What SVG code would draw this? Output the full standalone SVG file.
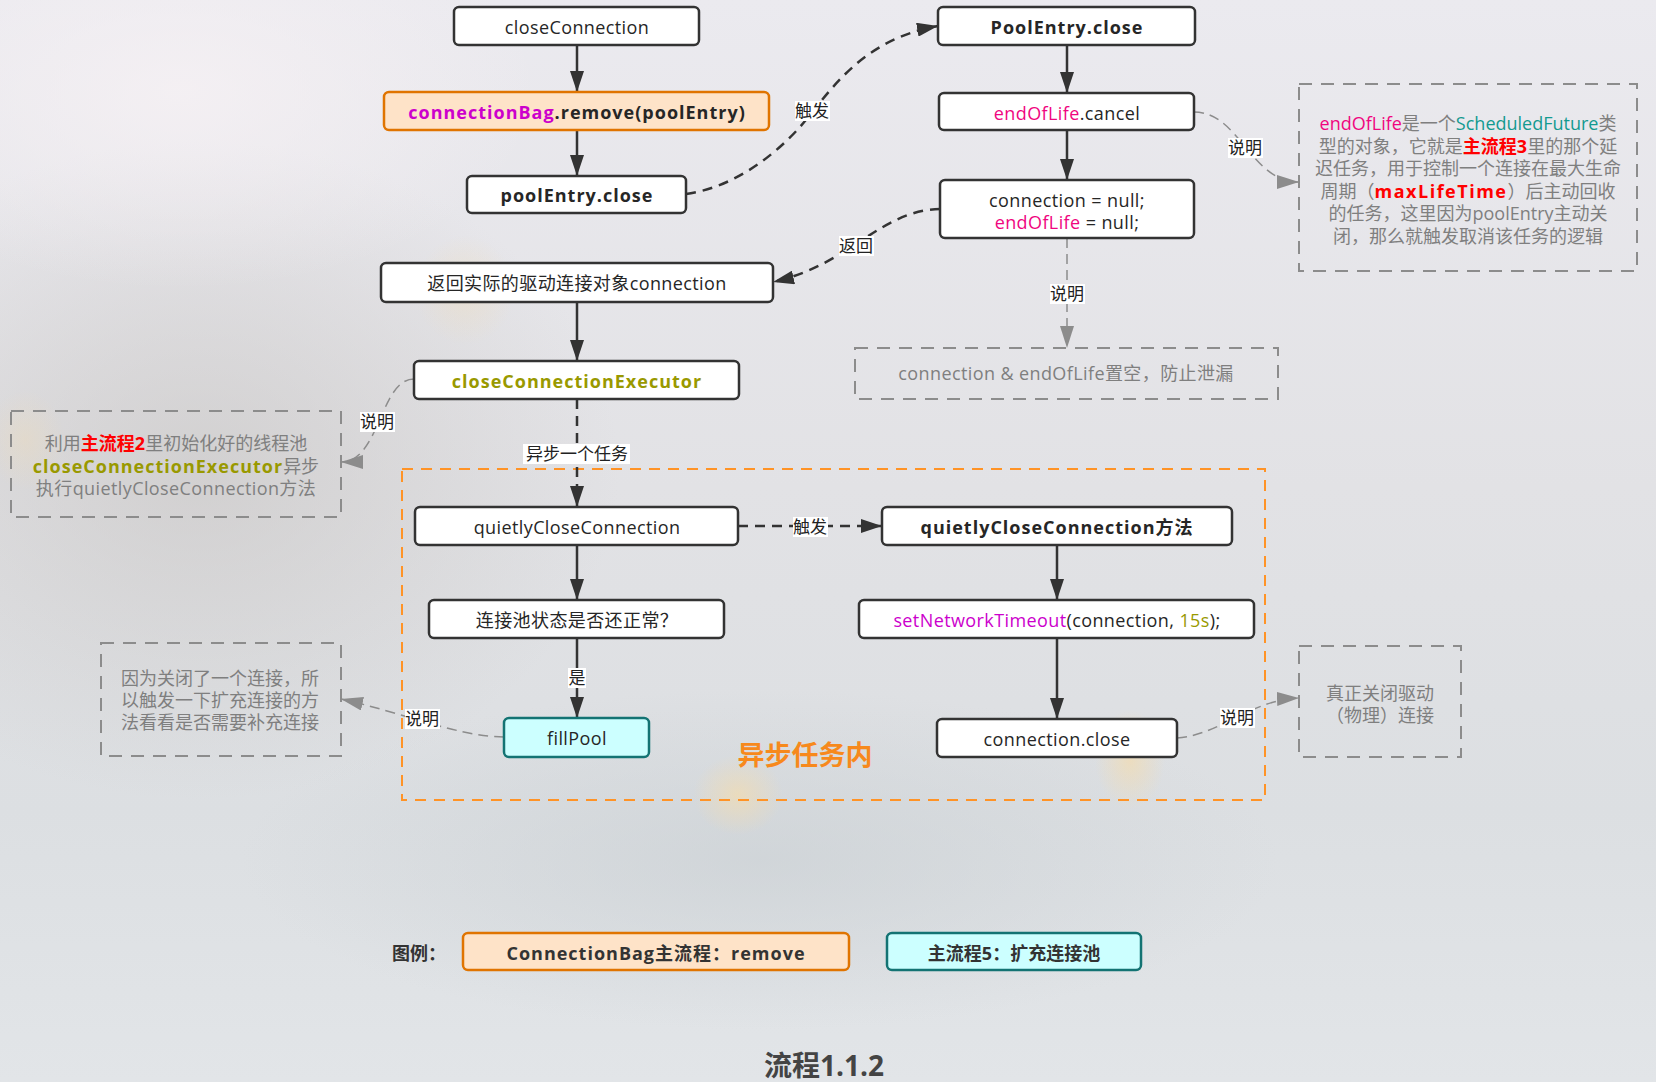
<svg xmlns="http://www.w3.org/2000/svg" width="1656" height="1082" viewBox="0 0 1656 1082">
  <defs>
    <linearGradient id="bgv" x1="0" y1="0" x2="0" y2="1">
      <stop offset="0" stop-color="#ebeaef"/>
      <stop offset="0.45" stop-color="#e2e2e5"/>
      <stop offset="0.75" stop-color="#dcdfe2"/>
      <stop offset="1" stop-color="#e2e5e8"/>
    </linearGradient>
    <radialGradient id="shadeL" cx="0.5" cy="0.5" r="0.5">
      <stop offset="0" stop-color="#c4c1bf" stop-opacity="0.55"/>
      <stop offset="1" stop-color="#c4c1bf" stop-opacity="0"/>
    </radialGradient>
    <radialGradient id="lightTL" cx="0.5" cy="0.5" r="0.5">
      <stop offset="0" stop-color="#f6f1f4" stop-opacity="0.8"/>
      <stop offset="1" stop-color="#f6f1f4" stop-opacity="0"/>
    </radialGradient>
    <radialGradient id="shadeB" cx="0.5" cy="0.5" r="0.5">
      <stop offset="0" stop-color="#c8ced2" stop-opacity="0.6"/>
      <stop offset="1" stop-color="#c8ced2" stop-opacity="0"/>
    </radialGradient>
    <radialGradient id="glow" cx="0.5" cy="0.5" r="0.5">
      <stop offset="0" stop-color="#f3dcb0" stop-opacity="0.7"/>
      <stop offset="1" stop-color="#f3dcb0" stop-opacity="0"/>
    </radialGradient>
    <marker id="arr" markerUnits="userSpaceOnUse" markerWidth="21" markerHeight="14" refX="21" refY="7" orient="auto">
      <path d="M0,0 L21,7 L0,14 z" fill="#333"/>
    </marker>
    <marker id="arrg" markerUnits="userSpaceOnUse" markerWidth="22" markerHeight="14" refX="22" refY="7" orient="auto">
      <path d="M0,0 L22,7 L0,14 z" fill="#8c8c8c"/>
    </marker>
    <style>
      .t { font-family: "Open Sans", "Noto Sans CJK SC", sans-serif; font-size: 18px; fill: #262626; text-anchor: middle; }
      .n { letter-spacing: 0.4px; }
      .b { font-weight: bold; }
      .bs { font-weight: bold; letter-spacing: 1px; }
      .node rect { fill: #ffffff; stroke: #333333; stroke-width: 2.5; }
      .orange rect { fill: #fee3c8; stroke: #e07400; }
      .cyan rect { fill: #ccffff; stroke: #137373; }
      .edge { fill: none; stroke: #333333; stroke-width: 2.5; }
      .dash { stroke-dasharray: 10 7; }
      .nedge { fill: none; stroke: #8c8c8c; stroke-width: 1.5; stroke-dasharray: 10 6; }
      .note rect { fill: none; stroke: #8c8c8c; stroke-width: 2; stroke-dasharray: 13 9; }
      .note text { fill: #7f7f7f; }
      .lbg { fill: #ffffff; }
      .lbl { font-family: "Open Sans", "Noto Sans CJK SC", sans-serif; font-size: 17px; fill: #222; text-anchor: middle; }
      .pink { fill: #f0067f; }
      .mag { fill: #cc00cc; }
      .olive { fill: #999900; }
      .teal { fill: #139a90; }
      .red { fill: #ff0000; font-weight: bold; }
    </style>
  </defs>

  <!-- soft backdrop -->
  <rect width="1656" height="1082" fill="url(#bgv)"/>
  <ellipse cx="200" cy="470" rx="420" ry="330" fill="url(#shadeL)"/>
  <ellipse cx="180" cy="90" rx="360" ry="200" fill="url(#lightTL)"/>
  <ellipse cx="760" cy="860" rx="520" ry="170" fill="url(#shadeB)"/>
  <ellipse cx="738" cy="795" rx="45" ry="40" fill="url(#glow)"/>
  <ellipse cx="1130" cy="760" rx="35" ry="50" fill="url(#glow)"/>
  <ellipse cx="465" cy="290" rx="50" ry="55" fill="url(#glow)" opacity="0.5"/>
  <ellipse cx="25" cy="440" rx="40" ry="50" fill="url(#glow)" opacity="0.45"/>

  <!-- async task container -->
  <g id="async-group">
    <rect x="402" y="469" width="863" height="331" fill="none" stroke="#ff9326" stroke-width="2" stroke-dasharray="11 8"/>
    <text class="t b" x="805" y="765" style="font-size:27px;fill:#f7891c">异步任务内</text>
  </g>

  <!-- notes -->
  <g id="note-endoflife" class="note">
    <rect x="1299" y="84" width="338" height="187"/>
    <text class="t" x="1468" y="130"><tspan class="pink">endOfLife</tspan>是一个<tspan class="teal">ScheduledFuture</tspan>类</text>
    <text class="t" x="1468" y="152.5">型的对象，它就是<tspan class="red">主流程3</tspan>里的那个延</text>
    <text class="t" x="1468" y="175">迟任务，用于控制一个连接在最大生命</text>
    <text class="t" x="1468" y="197.5">周期（<tspan class="red" letter-spacing="1.5">maxLifeTime</tspan>）后主动回收</text>
    <text class="t" x="1468" y="220">的任务，这里因为poolEntry主动关</text>
    <text class="t" x="1468" y="242.5">闭，那么就触发取消该任务的逻辑</text>
  </g>
  <g id="note-null" class="note">
    <rect x="855" y="348" width="423" height="51"/>
    <text class="t n" x="1066" y="380">connection &amp; endOfLife置空，防止泄漏</text>
  </g>
  <g id="note-executor" class="note">
    <rect x="11" y="411" width="330" height="106"/>
    <text class="t" x="176" y="450">利用<tspan class="red">主流程2</tspan>里初始化好的线程池</text>
    <text class="t" x="176" y="473"><tspan class="olive bs">closeConnectionExecutor</tspan>异步</text>
    <text class="t n" x="176" y="495">执行quietlyCloseConnection方法</text>
  </g>
  <g id="note-fillpool" class="note">
    <rect x="101" y="643" width="240" height="113"/>
    <text class="t" x="220" y="685">因为关闭了一个连接，所</text>
    <text class="t" x="220" y="707">以触发一下扩充连接的方</text>
    <text class="t" x="220" y="729">法看看是否需要补充连接</text>
  </g>
  <g id="note-close" class="note">
    <rect x="1299" y="646" width="162" height="111"/>
    <text class="t" x="1380" y="700">真正关闭驱动</text>
    <text class="t" x="1380" y="722">（物理）连接</text>
  </g>

  <!-- connectors -->
  <g id="connectors">
    <path class="edge" d="M577,45 V92" marker-end="url(#arr)"/>
    <path class="edge" d="M577,130 V176" marker-end="url(#arr)"/>
    <path class="edge dash" d="M686,194 C730,188 770,160 800,127 C830,92 860,40 938,26" marker-end="url(#arr)"/>
    <path class="edge" d="M1067,45 V93" marker-end="url(#arr)"/>
    <path class="edge" d="M1067,130 V180" marker-end="url(#arr)"/>
    <path class="edge dash" d="M940,209 C880,210 850,265 773,282" marker-end="url(#arr)"/>
    <path class="edge" d="M577,302 V361" marker-end="url(#arr)"/>
    <path class="edge dash" d="M577,399 V507" marker-end="url(#arr)"/>
    <path class="edge" d="M577,545 V600" marker-end="url(#arr)"/>
    <path class="edge" d="M577,638 V718" marker-end="url(#arr)"/>
    <path class="edge dash" d="M738,526 H882" marker-end="url(#arr)"/>
    <path class="edge" d="M1057,545 V600" marker-end="url(#arr)"/>
    <path class="edge" d="M1057,638 V719" marker-end="url(#arr)"/>

    <path class="nedge" d="M1194,112 C1240,112 1250,182 1299,182" marker-end="url(#arrg)"/>
    <path class="nedge" d="M1067,238 V348" marker-end="url(#arrg)"/>
    <path class="nedge" d="M414,379 C380,379 380,462 341,462" marker-end="url(#arrg)"/>
    <path class="nedge" d="M504,737 C460,737 400,712 341,699" marker-end="url(#arrg)"/>
    <path class="nedge" d="M1177,738 C1220,735 1250,700 1299,698" marker-end="url(#arrg)"/>

    <!-- edge labels -->
    <rect class="lbg" x="795" y="101" width="35" height="20"/>
    <text class="lbl" x="812" y="117">触发</text>
    <rect class="lbg" x="839" y="236" width="35" height="20"/>
    <text class="lbl" x="856" y="252">返回</text>
    <rect class="lbg" x="1228" y="138" width="35" height="20"/>
    <text class="lbl" x="1245" y="154">说明</text>
    <rect class="lbg" x="1050" y="284" width="35" height="20"/>
    <text class="lbl" x="1067" y="300">说明</text>
    <rect class="lbg" x="360" y="412" width="35" height="20"/>
    <text class="lbl" x="377" y="428">说明</text>
    <rect class="lbg" x="523" y="444" width="107" height="20"/>
    <text class="lbl" x="577" y="460">异步一个任务</text>
    <rect class="lbg" x="793" y="517" width="35" height="20"/>
    <text class="lbl" x="810" y="533">触发</text>
    <rect class="lbg" x="568" y="668" width="18" height="20"/>
    <text class="lbl" x="577" y="684">是</text>
    <rect class="lbg" x="405" y="709" width="35" height="20"/>
    <text class="lbl" x="422" y="725">说明</text>
    <rect class="lbg" x="1220" y="708" width="35" height="20"/>
    <text class="lbl" x="1237" y="724">说明</text>
  </g>

  <!-- nodes -->
  <g id="closeConnection" class="node">
    <rect x="454" y="7" width="245" height="38" rx="5"/>
    <text class="t n" x="577" y="34">closeConnection</text>
  </g>
  <g id="bagRemove" class="node orange">
    <rect x="384" y="92" width="385" height="38" rx="5"/>
    <text class="t bs" x="577" y="119"><tspan class="mag">connectionBag</tspan>.remove(poolEntry)</text>
  </g>
  <g id="poolEntryClose" class="node">
    <rect x="467" y="176" width="219" height="37" rx="5"/>
    <text class="t bs" x="577" y="202">poolEntry.close</text>
  </g>
  <g id="PoolEntryCloseMethod" class="node">
    <rect x="938" y="7" width="257" height="38" rx="5"/>
    <text class="t bs" x="1067" y="34">PoolEntry.close</text>
  </g>
  <g id="endOfLifeCancel" class="node">
    <rect x="939" y="93" width="255" height="37" rx="5"/>
    <text class="t n" x="1067" y="120"><tspan class="pink">endOfLife</tspan>.cancel</text>
  </g>
  <g id="nullify" class="node">
    <rect x="940" y="180" width="254" height="58" rx="5"/>
    <text class="t n" x="1067" y="207">connection = null;</text>
    <text class="t n" x="1067" y="229"><tspan class="pink">endOfLife</tspan> = null;</text>
  </g>
  <g id="returnConnection" class="node">
    <rect x="381" y="263" width="392" height="39" rx="5"/>
    <text class="t n" x="577" y="290">返回实际的驱动连接对象connection</text>
  </g>
  <g id="closeConnectionExecutor" class="node">
    <rect x="414" y="361" width="325" height="38" rx="5"/>
    <text class="t bs olive" x="577" y="388">closeConnectionExecutor</text>
  </g>
  <g id="quietlyCloseConnection" class="node">
    <rect x="415" y="507" width="323" height="38" rx="5"/>
    <text class="t n" x="577" y="534">quietlyCloseConnection</text>
  </g>
  <g id="poolStateCheck" class="node">
    <rect x="429" y="600" width="295" height="38" rx="5"/>
    <text class="t n" x="577" y="627">连接池状态是否还正常？</text>
  </g>
  <g id="fillPool" class="node cyan">
    <rect x="504" y="718" width="145" height="39" rx="5"/>
    <text class="t n" x="577" y="745">fillPool</text>
  </g>
  <g id="quietlyCloseConnectionMethod" class="node">
    <rect x="882" y="507" width="350" height="38" rx="5"/>
    <text class="t bs" x="1057" y="534">quietlyCloseConnection方法</text>
  </g>
  <g id="setNetworkTimeout" class="node">
    <rect x="859" y="600" width="395" height="38" rx="5"/>
    <text class="t n" x="1057" y="627"><tspan class="mag">setNetworkTimeout</tspan>(connection, <tspan class="olive">15s</tspan>);</text>
  </g>
  <g id="connectionClose" class="node">
    <rect x="937" y="719" width="240" height="38" rx="5"/>
    <text class="t n" x="1057" y="746">connection.close</text>
  </g>

  <!-- legend -->
  <g id="legend">
    <text class="t b" x="392" y="960" style="text-anchor:start;fill:#333">图例：</text>
    <g id="legend-bag" class="node orange">
      <rect x="463" y="933" width="386" height="37" rx="5"/>
      <text class="t bs" x="656" y="960" style="fill:#333">ConnectionBag主流程：remove</text>
    </g>
    <g id="legend-fill" class="node cyan">
      <rect x="887" y="933" width="254" height="37" rx="5"/>
      <text class="t b" x="1014" y="960" style="fill:#333">主流程5：扩充连接池</text>
    </g>
  </g>

  <text class="t b" x="824" y="1076" style="font-size:28px;fill:#444">流程1.1.2</text>
</svg>
